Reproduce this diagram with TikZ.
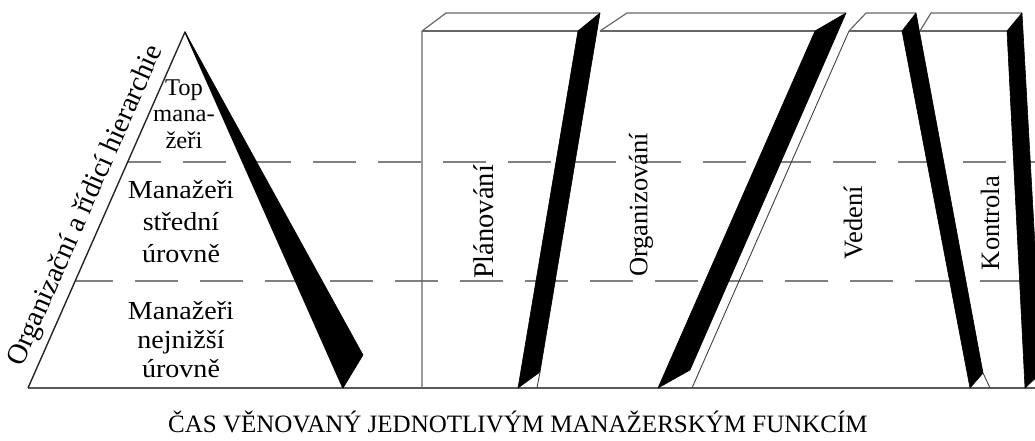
\documentclass[tikz,border=0pt]{standalone}
\usepackage{fontspec}
\setmainfont{Liberation Serif}
\begin{document}
\begin{tikzpicture}[x=1pt,y=-1pt,
  lbl/.style={font=\fontsize{25}{29}\selectfont, align=center, inner sep=0pt},
  plbl/.style={font=\fontsize{26}{31}\selectfont, align=center, inner sep=0pt, xscale=1.08},
  vlbl/.style={font=\fontsize{26.5}{29}\selectfont, rotate=90, inner sep=0pt},
  pedge/.style={line width=1.4pt, draw=black!85, line join=round},
  bedge/.style={line width=1.2pt, draw=black!60, line join=round},
  thin/.style={line width=0.9pt, draw=black!75},
  wedge/.style={fill=black, draw=black, line width=0.6pt, line join=round},
  hdash/.style={line width=2pt, draw=black!50, dash pattern=on 43pt off 22pt},
  base/.style={line width=2pt, draw=black!65}
]
\useasboundingbox (0,0) rectangle (1035,441);
\begin{scope}
\clip (0,0) rectangle (1035,441);
% coordinates
\coordinate (apex) at (185,32);
\coordinate (pl) at (28,388);
\coordinate (pr) at (343,388);
\coordinate (d1l) at (128,162);
\coordinate (d1r) at (1035,162);
\coordinate (d2l) at (75,281);
\coordinate (d2r) at (1035,281);
% dashed level lines
\draw[hdash, dash phase=10pt] (d1l) -- (d1r);
\draw[hdash, dash phase=5pt] (d2l) -- (d2r);
% base line
\coordinate (bend) at (1035,388);
\draw[base] (pl) -- (bend);
% pyramid
\draw[pedge] (pl) -- (apex) -- (pr);
\coordinate (pw) at (363,355);
\fill[wedge] (apex) -- (pw) -- (pr) -- cycle;
% Planovani box
\coordinate (a1) at (422,388);
\coordinate (a2) at (422,31);
\coordinate (a3) at (446,13);
\coordinate (a4) at (600,13);
\coordinate (a5) at (578,31);
\coordinate (a6) at (540,372);
\coordinate (a7) at (518,388);
\coordinate (a8) at (537,388);
\draw[bedge] (a1) -- (a2) -- (a3) -- (a4);
\draw[bedge] (a2) -- (a5);
\fill[wedge] (a5) -- (a4) -- (a6) -- (a7) -- cycle;
\draw[thin] (a6) -- (a8);
% Organizovani box
\coordinate (b1) at (600,31);
\coordinate (b2) at (627,13);
\coordinate (b3) at (846,13);
\coordinate (b4) at (815,31);
\coordinate (b5) at (690,370);
\coordinate (b6) at (658,388);
\draw[bedge] (b1) -- (b2) -- (b3);
\draw[bedge] (b1) -- (b4);
\fill[wedge] (b4) -- (b3) -- (b5) -- (b6) -- cycle;
% Vedeni box
\coordinate (c1) at (692,388);
\coordinate (c2) at (849,31);
\coordinate (c3) at (866,13);
\coordinate (c4) at (916,13);
\coordinate (c5) at (902,31);
\coordinate (c6) at (983,373);
\coordinate (c7) at (970,388);
\coordinate (c8) at (990,388);
\draw[thin] (c1) -- (c2);
\draw[bedge] (c2) -- (c3) -- (c4);
\draw[bedge] (c2) -- (c5);
\fill[wedge] (c5) -- (c4) -- (c6) -- (c7) -- cycle;
\draw[thin] (c6) -- (c8);
% Kontrola box
\coordinate (k1) at (920,31);
\coordinate (k2) at (931,13);
\coordinate (k3) at (1022,13);
\coordinate (k4) at (1007,31);
\coordinate (k5) at (1042,372);
\coordinate (k6) at (1025,388);
\draw[bedge] (k1) -- (k2) -- (k3);
\draw[bedge] (k1) -- (k4);
\fill[wedge] (k4) -- (k3) -- (k5) -- (k6) -- cycle;
\end{scope}
% labels
\node[plbl, font=\fontsize{24}{26.5}\selectfont, xscale=0.95] (top) at (184,114) {Top\\mana-\\žeři};
\node[plbl, font=\fontsize{26}{32}\selectfont] (mid) at (181,222) {Manažeři\\střední\\úrovně};
\node[plbl, font=\fontsize{26}{29}\selectfont] (low) at (181,340) {Manažeři\\nejnižší\\úrovně};
\node[lbl, font=\fontsize{28.5}{30}\selectfont, rotate=66.2] (hier) at (86,206) {Organizační a řídicí hierarchie};
\node[vlbl, font=\fontsize{28.5}{30}\selectfont] (plan) at (484,222) {Plánování};
\node[vlbl] (org) at (641,205) {Organizování};
\node[vlbl] (ved) at (853,223) {Vedení};
\node[vlbl] (kon) at (990,223) {Kontrola};
\node[lbl] (cas) at (518,422) {ČAS VĚNOVANÝ JEDNOTLIVÝM MANAŽERSKÝM FUNKCÍM};
\end{tikzpicture}
\end{document}
